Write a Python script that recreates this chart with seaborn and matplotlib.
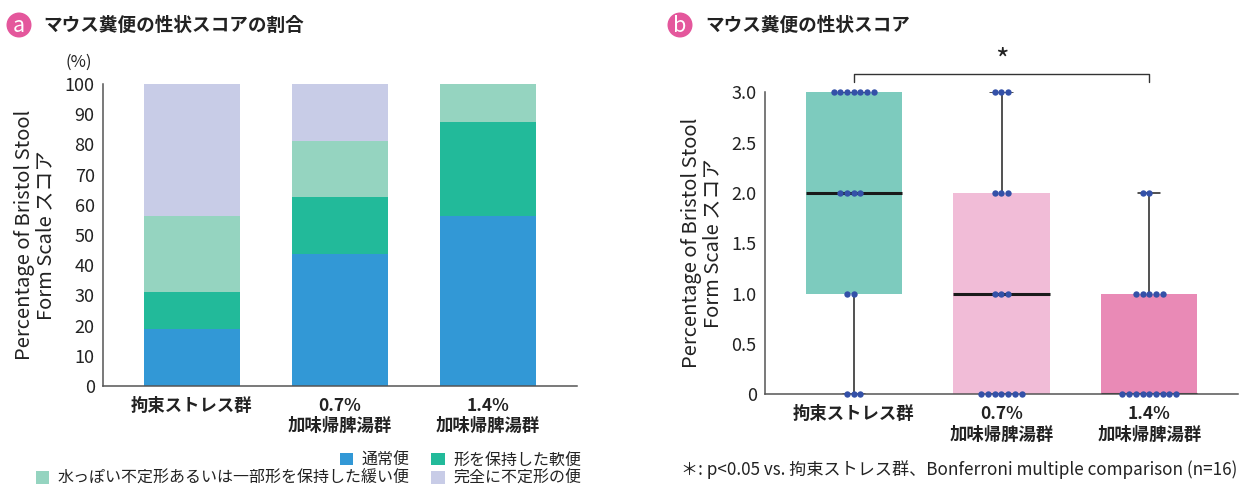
import numpy as np
import pandas as pd
import matplotlib
matplotlib.use("Agg")
import matplotlib.pyplot as plt
from matplotlib.patches import Patch, Ellipse
import seaborn as sns

# ---- data -------------------------------------------------------------
groups = ["拘束ストレス群", "0.7%\n加味帰脾湯群", "1.4%\n加味帰脾湯群"]

# panel a: share of each stool type (%)
stool_types = ["通常便", "形を保持した軟便",
               "水っぽい不定形あるいは一部形を保持した緩い便", "完全に不定形の便"]
pct_normal = [18.75, 43.75, 56.25]
pct_soft = [12.5, 18.75, 31.25]
pct_loose = [25.0, 18.75, 12.5]
pct_shapeless = [43.75, 18.75, 0.0]

# panel b: number of mice at each Bristol score (0, 1, 2, 3), n=16 per group
scores = [0, 1, 2, 3]
counts_restraint = [3, 2, 4, 7]
counts_07 = [7, 3, 3, 3]
counts_14 = [9, 5, 2, 0]

yticks_b = [0, 0.5, 1.0, 1.5, 2.0, 2.5, 3.0]
yticklabels_b = ["0", "0.5", "1.0", "1.5", "2.0", "2.5", "3.0"]

# ---- style ------------------------------------------------------------
sns.set_style("white")
plt.rcParams["font.family"] = ["Noto Sans CJK JP", "DejaVu Sans"]
plt.rcParams["text.color"] = "#222222"
plt.rcParams["axes.labelcolor"] = "#222222"
plt.rcParams["xtick.color"] = "#222222"
plt.rcParams["ytick.color"] = "#222222"

stool_colors = ["#3298D6", "#22BA9A", "#95D4C0", "#C8CCE7"]
box_colors = ["#7DCBBE", "#F1BCD7", "#E98AB6"]
dot_color = "#3451A8"
axis_gray = "#555555"
badge_pink = "#E4579C"

W, H = 1239, 488
fig = plt.figure(figsize=(W / 100, H / 100), dpi=100)
axa = fig.add_axes([103 / W, (H - 386) / H, 474 / W, 302 / H])
axb = fig.add_axes([765 / W, (H - 394.3) / H, 473 / W, 302 / H])

ylabel = "Percentage of Bristol Stool\nForm Scale スコア"


def style_axis(ax):
    sns.despine(ax=ax)
    for s in ("left", "bottom"):
        ax.spines[s].set_color(axis_gray)
        ax.spines[s].set_linewidth(1.1)
    ax.tick_params(axis="y", length=4, width=1.0, color=axis_gray, pad=2,
                   labelsize=13)
    ax.tick_params(axis="x", length=0, pad=8)
    ax.set_xlim(-0.6, 2.6)
    ax.set_xlabel("")
    ax.set_ylabel(ylabel, fontsize=14.5, labelpad=6, linespacing=1.0)
    ax.set_xticks(range(len(groups)))
    ax.set_xticklabels(groups, fontsize=12.5, fontweight="bold",
                       linespacing=1.15)


# ---- panel a: stacked bars -------------------------------------------
layers = [pct_normal, pct_soft, pct_loose, pct_shapeless]
bottom = np.zeros(len(groups))
for vals, col in zip(layers, stool_colors):
    sns.barplot(x=groups, y=vals, bottom=bottom, color=col, saturation=1,
                width=0.65, errorbar=None, ax=axa, linewidth=0)
    bottom = bottom + np.array(vals)
axa.set_ylim(0, 100)
axa.set_yticks(range(0, 101, 10))
style_axis(axa)

# ---- panel b: box + swarm ---------------------------------------------
obs = pd.DataFrame({
    "group": np.concatenate([np.repeat(g, sum(c)) for g, c in
                             zip(groups, [counts_restraint, counts_07, counts_14])]),
    "score": np.concatenate([np.repeat(scores, c) for c in
                             [counts_restraint, counts_07, counts_14]]),
})
sns.boxplot(data=obs, x="group", y="score", hue="group", palette=box_colors,
            saturation=1, width=0.65, showfliers=False, legend=False, ax=axb,
            boxprops=dict(linewidth=0, edgecolor="none"),
            whiskerprops=dict(color="#222222", linewidth=1.1),
            capprops=dict(color="#222222", linewidth=1.1),
            medianprops=dict(color="#1A1A1A", linewidth=2.2),
            capwidths=0.15)
sns.swarmplot(data=obs, x="group", y="score", color=dot_color, size=4.6,
              linewidth=0, ax=axb, zorder=4)
for c in axb.collections:
    c.set_clip_on(False)
axb.set_ylim(0, 3)
axb.set_yticks(yticks_b)
axb.set_yticklabels(yticklabels_b)
style_axis(axb)

# significance bracket between the restraint group and the 1.4% group
axb.plot([0, 0, 2, 2], [3.10, 3.18, 3.18, 3.10], color="#333333", lw=1.0,
         clip_on=False)
axb.text(1.0, 3.30, "*", ha="center", va="center", fontsize=21,
         color="#222222")

# ---- headings --------------------------------------------------------
for cx, letter, tx, title in [(19, "a", 43, "マウス糞便の性状スコアの割合"),
                              (680, "b", 705, "マウス糞便の性状スコア")]:
    fig.patches.append(Ellipse((cx / W, 1 - 25 / H), 25 / W, 25 / H,
                               transform=fig.transFigure, facecolor=badge_pink,
                               edgecolor="none"))
    fig.text(cx / W, 1 - 26.5 / H, letter, color="white", ha="center",
             va="center", fontsize=15.5)
    fig.text(tx / W, 1 - 25 / H, title, ha="left", va="center",
             fontsize=13.4, fontweight="bold")

fig.text(79 / W, 1 - 62 / H, "(%)", ha="center", va="center", fontsize=12)

# ---- legend for panel a ----------------------------------------------
handles = [Patch(facecolor=c, edgecolor="none", label=l)
           for c, l in zip(stool_colors, stool_types)]
leg_kw = dict(ncol=2, frameon=False, fontsize=11.5, handlelength=0.85,
              handleheight=0.85, handletextpad=0.5, columnspacing=1.4,
              borderpad=0, borderaxespad=0, loc="center right")
fig.legend(handles=[handles[0], handles[1]],
           bbox_to_anchor=(581 / W, 1 - 460 / H), **leg_kw)
fig.legend(handles=[handles[2], handles[3]],
           bbox_to_anchor=(581 / W, 1 - 478.5 / H), **leg_kw)

fig.text(1237 / W, 1 - 470 / H,
         "＊: p<0.05 vs. 拘束ストレス群、Bonferroni multiple comparison (n=16)",
         ha="right", va="center", fontsize=12.3)

fig.savefig("out.png", dpi=100)
